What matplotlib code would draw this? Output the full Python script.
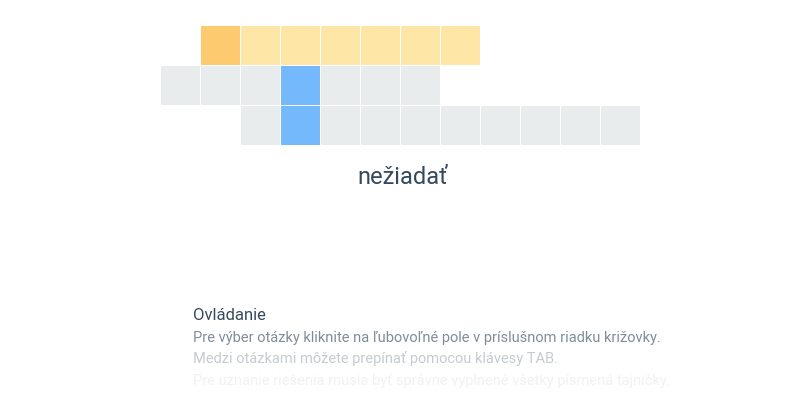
import matplotlib.pyplot as plt
from matplotlib.patches import Rectangle

# crossword rows: starting column and number of cells
row_start = [1, 0, 2]
row_len = [7, 7, 10]
active_row = 0
active_cell = (0, 1)
secret_col = 3
answer = 'nežiadať'
help_title = 'Ovládanie'
help_lines = [
    'Pre výber otázky kliknite na ľubovoľné pole v príslušnom riadku križovky.',
    'Medzi otázkami môžete prepínať pomocou klávesy TAB.',
    'Pre uznanie riešenia musia byť správne vyplnené všetky písmená tajničky.',
]
help_alpha = [1.0, 0.45, 0.12]

fig = plt.figure(figsize=(8, 4), dpi=100)
ax = fig.add_axes([0, 0, 1, 1])
ax.set_xlim(0, 800)
ax.set_ylim(400, 0)
ax.axis('off')

x0, y0, size = 161, 26, 40
for r, (s, n) in enumerate(zip(row_start, row_len)):
    for c in range(s, s + n):
        color = '#e9eced'
        if r == active_row:
            color = '#fee6a6'
        elif c == secret_col:
            color = '#74b9fc'
        if (r, c) == active_cell:
            color = '#fdca70'
        ax.add_patch(Rectangle((x0 + c * size, y0 + r * size), size - 1.5, size - 1.5,
                               facecolor=color, edgecolor='none'))

ax.text(403, 178, answer, ha='center', va='center', fontsize=17, color='#34495e', family='Roboto')
ax.text(193, 316, help_title, ha='left', va='center', fontsize=12, color='#34495e', family='Roboto')
for i, (line, a) in enumerate(zip(help_lines, help_alpha)):
    ax.text(193, 338 + i * 21, line, ha='left', va='center', fontsize=10.5,
            color='#7f8c9a', alpha=a, family='Roboto')

fig.savefig('out.png')
